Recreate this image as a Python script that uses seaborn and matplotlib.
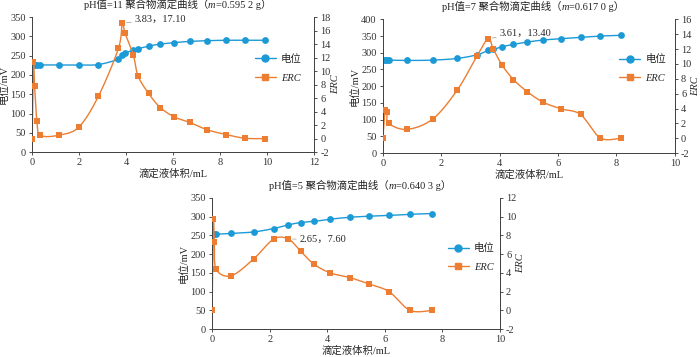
import numpy as np
import pandas as pd
import matplotlib
matplotlib.use("Agg")
import matplotlib.pyplot as plt
from matplotlib.lines import Line2D
from matplotlib.offsetbox import TextArea, HPacker, AnnotationBbox
import seaborn as sns

# pH 11 panel
x11 = [0.0, 0.05, 0.1, 0.2, 0.35, 1.13, 1.98, 2.82, 3.67, 3.83, 3.95, 4.3, 4.5, 4.95, 5.45, 6.05, 6.7, 7.45, 8.25, 9.05, 9.9]
pot11 = [230, 228, 227, 226, 226, 226, 226, 227, 241, 251, 256, 265, 268, 275, 280, 284, 287, 289, 290, 290, 290]
erc11 = [0.0, 11.3, 7.8, 2.6, 0.5, 0.5, 1.7, 6.3, 13.4, 17.1, 15.6, 12.4, 9.3, 6.7, 4.6, 3.2, 2.4, 1.3, 0.6, 0.05, 0.0]

# pH 7 panel
x7 = [0.0, 0.07, 0.14, 0.2, 0.83, 1.71, 2.55, 3.23, 3.61, 3.78, 4.09, 4.47, 4.95, 5.49, 6.11, 6.77, 7.45, 8.14]
pot7 = [278, 278, 278, 278, 277, 278, 283, 294, 307, 310, 318, 325, 332, 338, 342, 346, 350, 352]
erc7 = [0.0, 3.85, 3.5, 2.0, 1.2, 2.6, 6.5, 11.1, 13.4, 12.0, 9.8, 7.9, 6.25, 4.85, 3.95, 3.2, 0.05, 0.0]

# pH 5 panel
x5 = [0.0, 0.04, 0.08, 0.14, 0.67, 1.45, 2.14, 2.65, 3.08, 3.53, 4.1, 4.78, 5.46, 6.15, 6.88, 7.66]
pot5 = [254, 253, 253, 253, 255, 259, 268, 278, 284, 287, 293, 298, 301, 303, 306, 308]
erc5 = [0.0, 9.7, 7.3, 4.4, 3.7, 5.5, 7.6, 7.6, 6.3, 4.95, 4.0, 3.5, 2.8, 2.0, 0.0, 0.0]

BLUE = "#1c9ad6"
ORANGE = "#ed7d31"
FONTS = ["Liberation Serif", "Noto Sans CJK SC"]
FS = 7.5

sns.set_theme(style="ticks")
plt.rcParams["font.family"] = FONTS
plt.rcParams["axes.unicode_minus"] = False


def smooth(x, y, n=24):
    # Catmull-Rom style smoothing, similar to spreadsheet smoothed lines
    p = np.column_stack([x, y]).astype(float)
    p = np.vstack([p[0], p, p[-1]])
    out = []
    t = np.linspace(0, 1, n)[:, None]
    for i in range(1, len(p) - 2):
        p0, p1, p2, p3 = p[i - 1], p[i], p[i + 1], p[i + 2]
        c1 = p1 + (p2 - p0) / 6
        c2 = p2 - (p3 - p1) / 6
        seg = ((1 - t) ** 3) * p1 + 3 * ((1 - t) ** 2) * t * c1 + 3 * (1 - t) * t ** 2 * c2 + t ** 3 * p2
        out.append(seg)
    s = np.vstack(out)
    return pd.DataFrame({"x": s[:, 0], "y": s[:, 1]})


def title(ax, head, m):
    # title with italic m, CJK-safe (no mathtext)
    tp = dict(fontsize=FS, family=FONTS, color="#222222")
    parts = [TextArea(head + "（", textprops=tp),
             TextArea("m", textprops=dict(tp, style="italic")),
             TextArea("=" + m + "）", textprops=tp)]
    box = HPacker(children=parts, pad=0, sep=0, align="baseline")
    ab = AnnotationBbox(box, (0.5, 1.0), xycoords="axes fraction", xybox=(3, 5),
                        boxcoords="offset points", box_alignment=(0.5, 0), frameon=False,
                        annotation_clip=False)
    ax.add_artist(ab)


def panel(rect, head, m, x, pot, erc, xmax, ylim, yticks, rlim, rticks, peak, off, leg_xy):
    ax = fig.add_axes(rect)
    ax2 = ax.twinx()
    sp = smooth(x, pot)
    se = smooth(x, erc)
    sns.lineplot(data=sp, x="x", y="y", ax=ax, color=BLUE, lw=1.0, sort=False, estimator=None)
    sns.scatterplot(x=x, y=pot, ax=ax, color=BLUE, marker="o", s=24, edgecolor=BLUE, linewidth=0, zorder=3)
    sns.lineplot(data=se, x="x", y="y", ax=ax2, color=ORANGE, lw=1.0, sort=False, estimator=None)
    sns.scatterplot(x=x, y=erc, ax=ax2, color=ORANGE, marker="s", s=20, edgecolor=ORANGE, linewidth=0, zorder=3)

    ax.set_xlim(0, xmax)
    ax.set_ylim(*ylim)
    ax.set_yticks(yticks)
    ax.set_xticks(np.arange(0, xmax + 0.1, 2))
    ax2.set_ylim(*rlim)
    ax2.set_yticks(rticks)
    for a in (ax, ax2):
        a.tick_params(labelsize=FS, length=2.5, width=0.6, colors="#333333", pad=2)
        for s in a.spines.values():
            s.set_linewidth(0.7)
            s.set_color("#444444")
        a.spines["top"].set_visible(False)
    ax.set_ylabel("电位/mV", fontsize=FS, labelpad=1)
    ax.set_xlabel("滴定液体积/mL", fontsize=FS, labelpad=1)
    ax2.set_ylabel("ERC", fontsize=FS, style="italic", labelpad=0)
    title(ax, head, m)

    ax2.annotate(f"{peak[0]:.2f}，{peak[1]:.2f}", xy=peak, xytext=off, textcoords="offset points",
                 fontsize=FS, va="center", ha="left",
                 arrowprops=dict(arrowstyle="-", color="#999999", lw=0.5, shrinkA=0, shrinkB=3))

    handles = [Line2D([], [], color=BLUE, marker="o", markersize=5, lw=1.0),
               Line2D([], [], color=ORANGE, marker="s", markersize=4.5, lw=1.0)]
    leg = ax.legend(handles, ["电位", "ERC"], loc="center left", bbox_to_anchor=leg_xy,
                    frameon=False, fontsize=FS, handlelength=2.0, handletextpad=0.5,
                    labelspacing=0.9, borderpad=0, borderaxespad=0)
    leg.get_texts()[1].set_style("italic")
    return ax


fig = plt.figure(figsize=(7.0, 3.57), dpi=100)

panel([0.046, 0.574, 0.403, 0.378], "pH值=11 聚合物滴定曲线", "0.595 2 g",
      x11, pot11, erc11, 12, (0, 350), range(0, 351, 50), (-2, 18), range(-2, 19, 2),
      (3.83, 17.1), (9, 3), (0.79, 0.62))

panel([0.547, 0.571, 0.417, 0.375], "pH值=7 聚合物滴定曲线", "0.617 0 g",
      x7, pot7, erc7, 10, (0, 400), range(0, 401, 50), (-2, 16), range(-2, 17, 2),
      (3.61, 13.4), (8, 4), (0.81, 0.63))

panel([0.303, 0.078, 0.411, 0.368], "pH值=5 聚合物滴定曲线", "0.640 3 g",
      x5, pot5, erc5, 10, (0, 350), range(0, 351, 50), (-2, 12), range(-2, 13, 2),
      (2.65, 7.6), (8, 0), (0.82, 0.545))

fig.savefig("out.png", dpi=100, facecolor="white")
